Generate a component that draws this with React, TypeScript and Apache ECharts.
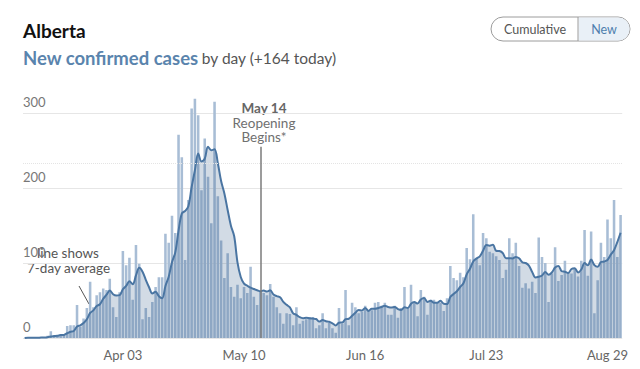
import React, { useEffect, useRef } from "react";
import * as echarts from "echarts";

// Daily new confirmed cases (Mar 4 – Sep 2)
const marchCases = [0, 1, 0, 0, 0, 2, 1, 3, 9, 3, 4, 5, 4, 16, 17, 17, 44, 15, 26, 40, 75, 41, 57, 61, 66, 64, 79, 41];
const aprilCases = [28, 61, 116, 97, 107, 51, 124, 99, 25, 40, 28, 48, 68, 81, 81, 139, 127, 163, 140, 271, 241, 104, 184, 306, 319, 297, 197, 266, 215, 153];
const mayCases = [315, 189, 130, 80, 113, 68, 55, 71, 53, 68, 60, 95, 55, 44, 62, 60, 57, 72, 55, 41, 33, 19, 33, 32, 17, 41, 19, 23, 25, 28, 28];
const juneCases = [13, 17, 33, 13, 20, 13, 7, 40, 19, 64, 17, 47, 41, 33, 35, 43, 37, 37, 47, 48, 43, 47, 31, 31, 43, 27, 40, 68, 40, 71];
const julyCases = [47, 29, 64, 55, 31, 51, 51, 48, 47, 36, 53, 96, 80, 77, 87, 81, 120, 105, 165, 107, 97, 140, 133, 115, 113, 109, 104, 80, 91, 133, 113];
const augustCases = [127, 96, 67, 73, 66, 75, 60, 134, 108, 100, 48, 86, 121, 76, 84, 103, 88, 86, 93, 82, 103, 144, 83, 142, 33, 77, 127, 108, 158, 133, 184];
const septemberCases = [108, 164];

const monthBlocks = [
  { month: "Mar", firstDay: 4, values: marchCases },
  { month: "Apr", firstDay: 1, values: aprilCases },
  { month: "May", firstDay: 1, values: mayCases },
  { month: "Jun", firstDay: 1, values: juneCases },
  { month: "Jul", firstDay: 1, values: julyCases },
  { month: "Aug", firstDay: 1, values: augustCases },
  { month: "Sep", firstDay: 1, values: septemberCases },
];

const xTickLabels = ["Apr 03", "May 10", "Jun 16", "Jul 23", "Aug 29"];
const reopeningDate = "May 15";
const todayCount = 164;

const dates: string[] = [];
const daily: number[] = [];
monthBlocks.forEach((b) => {
  b.values.forEach((v, k) => {
    dates.push(`${b.month} ${String(b.firstDay + k).padStart(2, "0")}`);
    daily.push(v);
  });
});

// 7-day trailing average of the daily values
const avg7 = daily.map((_, i) => {
  const w = daily.slice(Math.max(0, i - 6), i + 1);
  return Math.round((w.reduce((a, b) => a + b, 0) / w.length) * 10) / 10;
});

const FONT = 'Lato, "Open Sans", sans-serif';

export default function App() {
  const ref = useRef<HTMLDivElement>(null);
  useEffect(() => {
    document.body.style.margin = "0";
    if (!ref.current) return;
    const chart = echarts.init(ref.current, undefined, { renderer: "svg" });
    chart.setOption({
      animation: false,
      textStyle: { fontFamily: FONT },
      grid: { left: 23, right: 2, top: 113, bottom: 31, containLabel: false },
      xAxis: {
        type: "category",
        data: dates,
        boundaryGap: true,
        axisLine: { show: false },
        axisTick: { show: false },
        splitLine: { show: false },
        axisLabel: {
          interval: (i: number, v: string) => xTickLabels.includes(v),
          color: "#666",
          fontSize: 13,
          margin: 10,
          fontFamily: FONT,
        },
      },
      yAxis: {
        type: "value",
        min: 0,
        max: 300,
        interval: 100,
        axisLine: { show: false },
        axisTick: { show: false },
        splitLine: { lineStyle: { color: "#e6e6e6", width: 1 } },
        axisLabel: {
          inside: true,
          margin: 0,
          verticalAlign: "bottom",
          padding: [0, 0, 5, 0],
          color: "#777",
          fontSize: 13,
          fontFamily: FONT,
        },
      },
      series: [
        {
          type: "bar",
          data: daily,
          clip: false,
          barCategoryGap: "22%",
          itemStyle: { color: "#a8bdd5" },
          z: 2,
          markLine: {
            silent: true,
            symbol: "none",
            label: { show: false },
            data: [
              {
                yAxis: 233,
                lineStyle: { color: "#e4e4e4", type: "dotted", width: 1 },
              },
              [
                { xAxis: reopeningDate, yAxis: 255, lineStyle: { color: "#7b7b7b", width: 1.5, type: "solid" } },
                { xAxis: reopeningDate, yAxis: 0 },
              ],
            ],
          },
        },
        {
          type: "line",
          data: avg7,
          smooth: 0.35,
          symbol: "none",
          clip: false,
          z: 3,
          lineStyle: { color: "#4a75a2", width: 2 },
          areaStyle: { color: "rgba(55,95,140,0.32)" },
        },
      ],
      graphic: [
        {
          type: "text",
          x: 23,
          y: 30,
          style: { text: "Alberta", font: `bold 19px ${FONT}`, fill: "#111", textVerticalAlign: "middle" },
        },
        {
          type: "text",
          x: 23,
          y: 58,
          style: {
            text: `{a|New confirmed cases} {b|by day (+${todayCount} today)}`,
            textVerticalAlign: "middle",
            rich: {
              a: { fontFamily: FONT, fontWeight: "bold", fontSize: 18.5, fill: "#5a84ad", color: "#5a84ad" },
              b: { fontFamily: FONT, fontSize: 15.5, fill: "#555", color: "#555" },
            },
          },
        },
        {
          type: "rect",
          shape: { x: 491, y: 17, width: 139, height: 24, r: 12 },
          style: { fill: "#fff", stroke: "#9c9c9c", lineWidth: 1 },
        },
        {
          type: "rect",
          shape: { x: 578.5, y: 17.5, width: 51, height: 23, r: [0, 11.5, 11.5, 0] },
          style: { fill: "#e9f0f7" },
        },
        {
          type: "line",
          shape: { x1: 578, y1: 17, x2: 578, y2: 41 },
          style: { stroke: "#9c9c9c", lineWidth: 1 },
        },
        {
          type: "text",
          x: 535,
          y: 29.5,
          style: { text: "Cumulative", font: `12.5px ${FONT}`, fill: "#555", textAlign: "center", textVerticalAlign: "middle" },
        },
        {
          type: "text",
          x: 604,
          y: 29.5,
          style: { text: "New", font: `12.5px ${FONT}`, fill: "#4e7eae", textAlign: "center", textVerticalAlign: "middle" },
        },
        {
          type: "text",
          x: 264,
          y: 108,
          style: { text: "May 14", font: `bold 13.5px ${FONT}`, fill: "#666", textAlign: "center", textVerticalAlign: "middle" },
        },
        {
          type: "text",
          x: 264,
          y: 122.5,
          style: { text: "Reopening", font: `13.5px ${FONT}`, fill: "#707070", textAlign: "center", textVerticalAlign: "middle" },
        },
        {
          type: "text",
          x: 264,
          y: 137,
          style: { text: "Begins*", font: `13.5px ${FONT}`, fill: "#707070", textAlign: "center", textVerticalAlign: "middle" },
        },
        {
          type: "text",
          x: 37,
          y: 253,
          style: { text: "line shows", font: `13.5px ${FONT}`, fill: "#555", textVerticalAlign: "middle" },
        },
        {
          type: "text",
          x: 27,
          y: 267.5,
          style: { text: "7-day average", font: `13.5px ${FONT}`, fill: "#555", textVerticalAlign: "middle" },
        },
        {
          type: "line",
          shape: { x1: 79, y1: 286, x2: 89, y2: 304 },
          style: { stroke: "#555", lineWidth: 1 },
        },
      ],
    });
    return () => chart.dispose();
  }, []);
  return <div ref={ref} style={{ width: 631, height: 369 }} />;
}
